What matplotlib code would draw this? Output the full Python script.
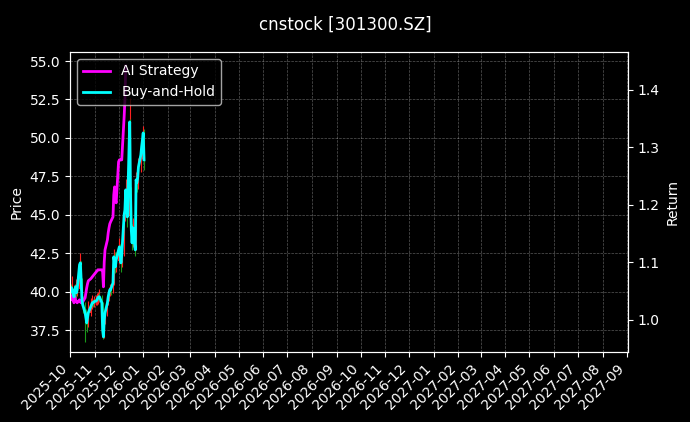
import numpy as np
import pandas as pd
import matplotlib
matplotlib.use('Agg')
import matplotlib.pyplot as plt
import matplotlib.dates as mdates

title = 'cnstock [301300.SZ]'
dates = pd.bdate_range('2025-10-01', periods=68)

opens = [39.90, 40.30, 39.90, 40.20, 39.70, 40.00, 40.35, 39.85, 40.20, 41.70,
         41.90, 40.80, 39.40, 39.10, 38.70, 38.30, 37.90, 38.30, 38.60, 39.05,
         39.10, 39.30, 39.20, 39.30, 39.40, 39.45, 39.60, 39.70, 39.60, 39.20,
         37.60, 37.10, 38.10, 38.60, 39.30, 39.60, 39.95, 40.20, 40.05, 40.60,
         42.30, 41.95, 41.55, 42.00, 42.75, 42.95, 42.30, 41.80, 42.50, 45.00,
         45.20, 46.70, 46.00, 44.90, 50.80, 46.50, 44.10, 43.10, 44.20, 42.80,
         47.30, 47.00, 47.40, 48.10, 48.90, 49.40, 49.80, 50.40]
closes = [40.23, 39.97, 40.23, 39.65, 40.10, 40.30, 39.91, 40.10, 41.73, 41.86,
          40.75, 39.45, 39.13, 38.61, 38.28, 37.96, 38.28, 38.61, 39.00, 39.13,
          39.26, 39.26, 39.32, 39.39, 39.45, 39.58, 39.65, 39.65, 39.26, 37.50,
          37.04, 38.15, 38.61, 39.26, 39.65, 39.91, 40.10, 40.10, 40.56, 42.25,
          41.92, 41.60, 42.05, 42.70, 42.90, 42.38, 41.86, 42.38, 44.98, 45.31,
          46.61, 45.96, 44.85, 51.03, 46.41, 44.01, 43.16, 44.14, 42.70, 47.26,
          47.06, 47.39, 48.11, 48.89, 49.41, 49.86, 50.32, 48.56]
highs = [40.60, 40.50, 41.00, 40.40, 40.50, 40.80, 40.50, 40.40, 42.50, 42.20,
         42.00, 40.90, 39.70, 39.30, 38.90, 38.50, 38.70, 39.40, 39.60, 39.50,
         39.80, 39.50, 39.70, 39.80, 39.90, 40.00, 40.20, 39.90, 39.80, 39.30,
         37.80, 38.40, 39.00, 39.60, 40.10, 40.30, 40.50, 40.40, 41.00, 42.80,
         42.60, 42.20, 42.60, 43.20, 43.50, 43.10, 42.50, 43.00, 45.50, 46.20,
         47.30, 47.00, 46.20, 52.60, 51.20, 46.80, 44.40, 44.80, 44.50, 47.80,
         47.90, 48.00, 48.70, 49.40, 50.00, 50.30, 50.80, 50.60]
lows = [39.70, 39.60, 39.80, 39.30, 39.50, 39.90, 39.60, 39.70, 40.10, 41.20,
        40.50, 39.20, 38.60, 36.70, 37.90, 37.40, 37.70, 38.10, 38.40, 38.80,
        38.90, 39.00, 39.00, 39.10, 39.10, 39.20, 39.30, 39.40, 38.90, 37.30,
        36.90, 37.00, 37.90, 38.40, 39.10, 39.40, 39.70, 39.80, 39.90, 40.40,
        41.50, 41.20, 41.30, 41.80, 42.40, 42.00, 41.30, 41.60, 42.30, 44.60,
        45.00, 45.40, 44.20, 44.80, 45.90, 43.50, 42.70, 42.90, 42.30, 42.70,
        46.50, 46.70, 47.10, 47.80, 48.60, 49.00, 49.50, 47.90]

ai_strategy = [1.0470, 1.0348, 1.0400, 1.0296, 1.0400, 1.0348, 1.0313, 1.0296, 1.0348, 1.0313,
               1.0296, 1.0296, 1.0313, 1.0383, 1.0470, 1.0557, 1.0626, 1.0678, 1.0713, 1.0730,
               1.0748, 1.0765, 1.0783, 1.0835, 1.0852, 1.0870, 1.0870, 1.0870, 1.0870, 1.0835,
               1.0574, 1.1009, 1.1217, 1.1391, 1.1513, 1.1600, 1.1670, 1.1704, 1.1791, 1.2174,
               1.2313, 1.2087, 1.2035, 1.2748, 1.2783, 1.2783, 1.2783, 1.2783, 1.3530, 1.3826,
               1.4417]
buy_hold = [1.0557, 1.0487, 1.0557, 1.0400, 1.0522, 1.0574, 1.0470, 1.0522, 1.0957, 1.0991,
            1.0696, 1.0348, 1.0261, 1.0122, 1.0035, 0.9948, 1.0035, 1.0122, 1.0226, 1.0261,
            1.0296, 1.0296, 1.0313, 1.0330, 1.0348, 1.0383, 1.0400, 1.0400, 1.0296, 0.9826,
            0.9704, 1.0000, 1.0122, 1.0296, 1.0400, 1.0470, 1.0522, 1.0522, 1.0643, 1.1096,
            1.1009, 1.0922, 1.1043, 1.1217, 1.1270, 1.1130, 1.0991, 1.1130, 1.1826, 1.1913,
            1.2261, 1.2087, 1.1791, 1.3443, 1.2209, 1.1565, 1.1339, 1.1600, 1.1217, 1.2435,
            1.2383, 1.2470, 1.2661, 1.2870, 1.3009, 1.3130, 1.3252, 1.2783]

plt.style.use('dark_background')
fig = plt.figure(figsize=(6.9, 4.22), dpi=100)
ax = fig.add_axes([70/690, 1-352/422, 558/690, 300/422])

o = np.array(opens); c = np.array(closes)
colors = np.where(c >= o, '#ff2020', '#1a9a1a')
ax.vlines(dates, lows, highs, colors=colors, linewidth=0.8)
ax.bar(dates, np.abs(c - o) + 0.02, bottom=np.minimum(o, c), width=0.6, color=colors)
ax.set_ylabel('Price')
ax.set_ylim(36.07, 55.59)
ax.grid(True, linestyle='--', linewidth=0.5, alpha=0.35)

ax2 = ax.twinx()
ax2.plot(dates[:len(ai_strategy)], ai_strategy, color='#ff00ff', lw=2, label='AI Strategy')
ax2.plot(dates, buy_hold, color='#00ffff', lw=2, label='Buy-and-Hold')
ax2.set_ylim(0.944, 1.466)
ax2.set_ylabel('Return')
ax2.legend(loc='upper left')

ax.set_xlim(pd.Timestamp('2025-10-01'), pd.Timestamp('2027-09-02'))
ax.xaxis.set_major_locator(mdates.MonthLocator())
ax.xaxis.set_major_formatter(mdates.DateFormatter('%Y-%m'))
plt.setp(ax.get_xticklabels(), rotation=45, ha='right')

fig.suptitle(title, y=0.962, fontsize=12)
fig.savefig('out.png', dpi=100)
